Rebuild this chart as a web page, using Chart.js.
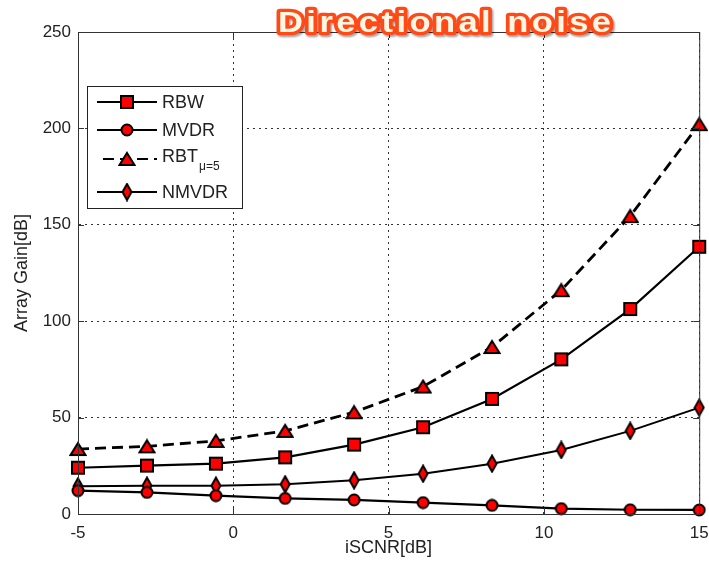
<!DOCTYPE html>
<html>
<head>
<meta charset="utf-8">
<script src="https://cdn.jsdelivr.net/npm/chart.js@4/dist/chart.umd.min.js"></script>
<style>
  html, body { margin: 0; padding: 0; background: #fff; }
  #wrap { width: 709px; height: 570px; }
</style>
</head>
<body>
<div id="wrap"><canvas id="chart" width="709" height="570"></canvas></div>
<script>
// data
const iscnr = [-5, -2.78, -0.56, 1.67, 3.89, 6.11, 8.33, 10.56, 12.78, 15];
const rbw   = [24.0, 25.1, 26.1, 29.4, 36.0, 45.0, 59.7, 80.2, 106.3, 138.6];
const mvdr  = [12.1, 11.2, 9.5, 8.1, 7.3, 5.9, 4.5, 2.8, 2.2, 2.1];
const rbt   = [33.7, 35.1, 37.9, 43.1, 52.8, 66.1, 86.6, 116.1, 154.5, 202.2];
const nmvdr = [14.4, 14.7, 14.7, 15.4, 17.5, 20.9, 26.1, 33.2, 43.1, 55.2];

const seriesNames = ['RBW', 'MVDR', 'RBT', 'NMVDR'];
const seriesSubs  = ['', '', 'μ=5', ''];
const xTicks = [-5, 0, 5, 10, 15];
const yTicks = [0, 50, 100, 150, 200, 250];
const chartTitle = 'Directional noise';

const FONT = '"Liberation Sans", Arial, sans-serif';

// marker images (red fill, black edge)
function makeMarker(shape) {
  const c = document.createElement('canvas');
  const dims = { square: [16, 16], circle: [14, 14], triangle: [18, 16], diamond: [12, 19] }[shape];
  c.width = dims[0]; c.height = dims[1];
  const g = c.getContext('2d');
  const w = c.width, h = c.height, cx = w / 2, cy = h / 2;
  g.fillStyle = '#ff0000';
  g.strokeStyle = '#000';
  g.lineWidth = 2;
  g.beginPath();
  if (shape === 'square') {
    g.rect(2, 2, w - 4, h - 4);
  } else if (shape === 'circle') {
    g.arc(cx, cy, w / 2 - 1.5, 0, Math.PI * 2);
  } else if (shape === 'triangle') {
    g.moveTo(cx, 2); g.lineTo(w - 1.5, h - 2); g.lineTo(1.5, h - 2); g.closePath();
  } else {
    g.moveTo(cx, 1.5); g.lineTo(w - 1.5, cy); g.lineTo(cx, h - 1.5); g.lineTo(1.5, cy); g.closePath();
  }
  g.fill();
  g.stroke();
  return c;
}

const markers = [makeMarker('square'), makeMarker('circle'), makeMarker('triangle'), makeMarker('diamond')];
const dashes = [[], [], [11, 6], []];
const widths = [2.2, 2.2, 2.8, 2];

function toPoints(vals) {
  return vals.map((v, i) => ({ x: iscnr[i], y: v }));
}

const allSeries = [rbw, mvdr, rbt, nmvdr];

// title drawn over the top edge of the axes box
const titlePlugin = {
  id: 'bigTitle',
  afterDraw(chart) {
    const ctx = chart.ctx;
    ctx.save();
    ctx.font = 'bold 30px ' + FONT;
    ctx.textBaseline = 'alphabetic';
    const left = 278, right = 611, base = 32, sx = 1.15;
    const chars = chartTitle.split('');
    const ws = chars.map(ch => ctx.measureText(ch).width * sx);
    const total = ws.reduce((a, b) => a + b, 0);
    const gap = (right - left - total) / (chars.length - 1);
    const xs = [];
    let x = left;
    ws.forEach(w => { xs.push(x); x += w + gap; });

    const drawAll = (fn) => chars.forEach((ch, i) => {
      ctx.save();
      ctx.translate(xs[i], base);
      ctx.scale(sx, 1);
      fn(ch);
      ctx.restore();
    });

    ctx.lineJoin = 'round';
    ctx.shadowColor = 'rgba(0,0,0,0.35)';
    ctx.shadowOffsetX = 1.5;
    ctx.shadowOffsetY = 2;
    ctx.shadowBlur = 2;
    ctx.strokeStyle = '#ff4a17';
    ctx.lineWidth = 6.5;
    drawAll(ch => ctx.strokeText(ch, 0, 0));
    ctx.shadowColor = 'transparent';
    ctx.fillStyle = '#fff7e4';
    drawAll(ch => ctx.fillText(ch, 0, 0));
    ctx.restore();
  }
};

// top/right border and inward tick marks
const boxPlugin = {
  id: 'axesBox',
  afterDatasetsDraw(chart) {
    const { ctx, chartArea: a, scales } = chart;
    ctx.save();
    ctx.strokeStyle = '#333';
    ctx.lineWidth = 1;
    ctx.strokeRect(a.left + 0.5, a.top + 0.5, a.right - a.left, a.bottom - a.top);
    ctx.beginPath();
    xTicks.forEach(t => {
      const px = Math.round(scales.x.getPixelForValue(t)) + 0.5;
      ctx.moveTo(px, a.bottom); ctx.lineTo(px, a.bottom - 6);
      ctx.moveTo(px, a.top); ctx.lineTo(px, a.top + 6);
    });
    yTicks.forEach(t => {
      const py = Math.round(scales.y.getPixelForValue(t)) + 0.5;
      ctx.moveTo(a.left, py); ctx.lineTo(a.left + 6, py);
      ctx.moveTo(a.right, py); ctx.lineTo(a.right - 6, py);
    });
    ctx.stroke();
    ctx.restore();
  }
};

// boxed legend in the upper left
const legendPlugin = {
  id: 'boxLegend',
  afterDraw(chart) {
    const ctx = chart.ctx;
    const bx = 87, by = 86, bw = 155, bh = 122;
    const rows = [102, 130, 159, 192];
    ctx.save();
    ctx.fillStyle = '#fff';
    ctx.fillRect(bx, by, bw, bh);
    ctx.strokeStyle = '#222';
    ctx.lineWidth = 1;
    ctx.strokeRect(bx + 0.5, by + 0.5, bw, bh);
    chart.data.datasets.forEach((ds, i) => {
      const y = rows[i];
      ctx.save();
      ctx.strokeStyle = '#000';
      ctx.lineWidth = 2.2;
      ctx.setLineDash(dashes[i]);
      if (dashes[i].length) ctx.lineDashOffset = -6;
      ctx.beginPath();
      ctx.moveTo(97, y); ctx.lineTo(157, y);
      ctx.stroke();
      ctx.restore();
      const m = markers[i];
      ctx.drawImage(m, 127 - m.width / 2, y - m.height / 2);
      ctx.fillStyle = '#222';
      ctx.textBaseline = 'middle';
      ctx.font = '18px ' + FONT;
      const ty = i === 2 ? y - 2 : y + 1;
      ctx.fillText(ds.label, 162, ty);
      if (seriesSubs[i]) {
        const w = ctx.measureText(ds.label).width;
        ctx.font = '12px ' + FONT;
        ctx.fillText(seriesSubs[i], 162 + w + 1, ty + 10);
      }
    });
    ctx.restore();
  }
};

const ctx = document.getElementById('chart').getContext('2d');
new Chart(ctx, {
  type: 'line',
  data: {
    datasets: allSeries.map((vals, i) => ({
      label: seriesNames[i],
      data: toPoints(vals),
      borderColor: '#000',
      borderWidth: widths[i],
      borderDash: dashes[i],
      pointStyle: markers[i],
      pointRadius: 7,
      pointHoverRadius: 7,
      tension: 0,
      fill: false,
      clip: false
    }))
  },
  options: {
    responsive: false,
    animation: false,
    events: [],
    layout: { padding: { top: 32, right: 0, left: 0, bottom: 0 } },
    plugins: {
      legend: { display: false },
      tooltip: { enabled: false },
      title: { display: false }
    },
    scales: {
      x: {
        type: 'linear',
        min: -5,
        max: 15,
        afterBuildTicks: s => { s.ticks = xTicks.map(v => ({ value: v })); },
        afterFit: s => { s.height = 56; s.paddingLeft = 0; s.paddingRight = 8; },
        grid: { color: '#333', lineWidth: 1, drawTicks: false },
        border: { display: true, color: '#333', width: 1, dash: [2, 4] },
        ticks: { color: '#222', padding: 9, font: { family: FONT, size: 17 }, maxRotation: 0 },
        title: { display: true, text: 'iSCNR[dB]', color: '#222', font: { family: FONT, size: 18 }, padding: { top: 0, bottom: 11 } }
      },
      y: {
        type: 'linear',
        min: 0,
        max: 250,
        afterBuildTicks: s => { s.ticks = yTicks.map(v => ({ value: v })); },
        afterFit: s => { s.width = 78; s.paddingTop = 0; s.paddingBottom = 0; },
        grid: { color: '#333', lineWidth: 1, drawTicks: false },
        border: { display: true, color: '#333', width: 1, dash: [2, 4] },
        ticks: { color: '#222', padding: 7, font: { family: FONT, size: 17 } },
        title: { display: true, text: 'Array Gain[dB]', color: '#222', font: { family: FONT, size: 18 }, padding: { top: 11, bottom: 0 } }
      }
    }
  },
  plugins: [boxPlugin, legendPlugin, titlePlugin]
});
</script>
</body>
</html>
